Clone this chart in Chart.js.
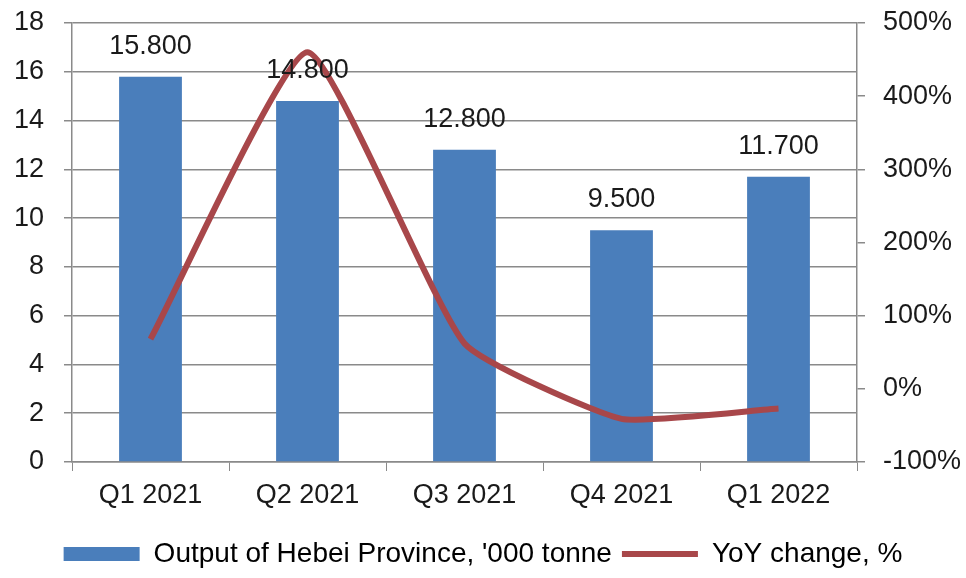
<!DOCTYPE html>
<html>
<head>
<meta charset="utf-8">
<script src="https://cdn.jsdelivr.net/npm/chart.js@4"></script>
<style>
  html, body { margin: 0; padding: 0; background: #fff; }
  #wrap { width: 966px; height: 578px; }
</style>
</head>
<body>
<div id="wrap"><canvas id="chart" width="966" height="578"></canvas></div>
<script>
// chart data
const quarters = ['Q1 2021', 'Q2 2021', 'Q3 2021', 'Q4 2021', 'Q1 2022'];
const outputValues = [15.8, 14.8, 12.8, 9.5, 11.7];
const yoyValues = [68, 460, 62, -41, -27];
const leftTicks = [0, 2, 4, 6, 8, 10, 12, 14, 16, 18];
const rightTicks = [-100, 0, 100, 200, 300, 400, 500];

const barBlue = '#4a7ebb';
const lineRed = '#a8474a';
const gridGrey = '#8a8a8a';
const fontFamily = "'Liberation Sans', Arial, sans-serif";

// value labels above the bars
const barLabels = {
  id: 'barLabels',
  afterDatasetsDraw(chart) {
    const ctx = chart.ctx;
    const meta = chart.getDatasetMeta(1);
    ctx.save();
    ctx.font = `27px ${fontFamily}`;
    ctx.fillStyle = '#1a1a1a';
    ctx.textAlign = 'center';
    ctx.textBaseline = 'alphabetic';
    meta.data.forEach((bar, i) => {
      ctx.fillText(outputValues[i].toFixed(3), bar.x, bar.y - 23);
    });
    ctx.restore();
  }
};

// keep tick padding from pushing the plot area around
function fixWidth(w) {
  return scale => {
    scale.width = w;
    scale.paddingTop = 0;
    scale.paddingBottom = 0;
  };
}

const ctx = document.getElementById('chart').getContext('2d');
new Chart(ctx, {
  type: 'bar',
  data: {
    labels: quarters,
    datasets: [
      {
        type: 'line',
        label: 'YoY change, %',
        data: yoyValues,
        yAxisID: 'y2',
        borderColor: lineRed,
        borderWidth: 6,
        pointRadius: 0,
        tension: 0.15,
        order: 0
      },
      {
        label: "Output of Hebei Province, '000 tonne",
        data: outputValues,
        yAxisID: 'y',
        backgroundColor: barBlue,
        barPercentage: 0.4,
        categoryPercentage: 1,
        order: 1
      }
    ]
  },
  options: {
    responsive: false,
    animation: false,
    layout: { padding: { top: 23, left: 0, right: 0, bottom: 0 } },
    plugins: {
      tooltip: { enabled: false },
      legend: {
        position: 'bottom',
        labels: {
          usePointStyle: true,
          pointStyleWidth: 76,
          boxHeight: 14,
          padding: 10,
          color: '#1a1a1a',
          font: { family: fontFamily, size: 28 },
          generateLabels(chart) {
            const ds = chart.data.datasets;
            return [
              { text: ds[1].label, fillStyle: barBlue, strokeStyle: barBlue, lineWidth: 0, pointStyle: 'rect', datasetIndex: 1 },
              { text: ds[0].label, fillStyle: lineRed, strokeStyle: lineRed, lineWidth: 6, pointStyle: 'line', datasetIndex: 0 }
            ];
          }
        }
      }
    },
    scales: {
      x: {
        grid: { drawOnChartArea: false, drawTicks: true, tickLength: 9, offset: true, color: gridGrey },
        border: { color: gridGrey, width: 1.5 },
        ticks: { color: '#1a1a1a', font: { family: fontFamily, size: 27 }, padding: 8, maxRotation: 0 },
        afterFit(scale) {
          scale.height = 68;
          scale.paddingLeft = 0;
          scale.paddingRight = 0;
        }
      },
      y: {
        position: 'left',
        min: 0,
        max: 18,
        afterBuildTicks(scale) { scale.ticks = leftTicks.map(v => ({ value: v })); },
        grid: { color: gridGrey, lineWidth: 1.5, tickLength: 8 },
        border: { color: gridGrey, width: 1.5 },
        ticks: { color: '#1a1a1a', font: { family: fontFamily, size: 27 }, padding: 20 },
        afterFit: fixWidth(72)
      },
      y2: {
        position: 'right',
        min: -100,
        max: 500,
        afterBuildTicks(scale) { scale.ticks = rightTicks.map(v => ({ value: v })); },
        grid: { drawOnChartArea: false, color: gridGrey, lineWidth: 1.5, tickLength: 8 },
        border: { color: gridGrey, width: 1.5 },
        ticks: {
          color: '#1a1a1a',
          font: { family: fontFamily, size: 27 },
          padding: 18,
          callback: v => v + '%'
        },
        afterFit: fixWidth(109)
      }
    }
  },
  plugins: [barLabels]
});
</script>
</body>
</html>
